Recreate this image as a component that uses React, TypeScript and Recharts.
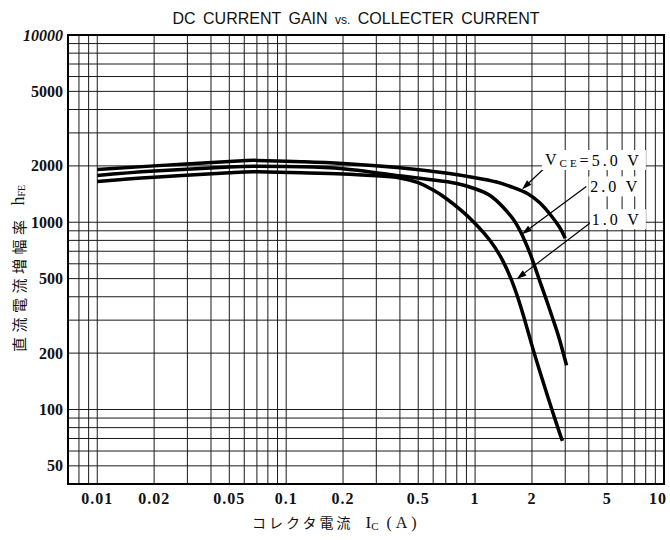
import React from 'react'
import {
  LineChart,
  Line,
  XAxis,
  YAxis,
  CartesianGrid,
  ReferenceArea,
  ReferenceLine,
  ReferenceDot,
} from 'recharts'

// log grid lines (all ticks) and the ones that get a label
const X_GRID = [
  0.007, 0.008, 0.009, 0.01, 0.02, 0.03, 0.04, 0.05, 0.06, 0.07, 0.08, 0.09,
  0.1, 0.2, 0.3, 0.4, 0.5, 0.6, 0.7, 0.8, 0.9, 1, 2, 3, 4, 5, 6, 7, 8, 9, 10,
]
const X_LABELS = [0.01, 0.02, 0.05, 0.1, 0.2, 0.5, 1, 2, 5, 10]
const Y_GRID = [
  40, 50, 60, 70, 80, 90, 100, 200, 300, 400, 500, 600, 700, 800, 900, 1000,
  2000, 3000, 4000, 5000, 6000, 7000, 8000, 9000, 10000,
]
const Y_LABELS = [50, 100, 200, 500, 1000, 2000, 5000, 10000]

// Ic (A) / hFE
const IC_5V = [0.01, 0.02, 0.05, 0.07, 0.12, 0.2, 0.4, 0.7, 1.0, 1.3, 1.6, 1.9, 2.2, 2.5, 2.8, 3.0]
const HFE_5V = [1914, 2000, 2110, 2140, 2105, 2060, 1955, 1830, 1730, 1640, 1530, 1420, 1270, 1100, 940, 822]

const IC_2V = [0.01, 0.02, 0.05, 0.07, 0.12, 0.2, 0.4, 0.6, 0.8, 1.0, 1.2, 1.4, 1.6, 1.8, 2.0, 2.2, 2.4, 2.6, 2.8, 3.05]
const HFE_2V = [1778, 1876, 1975, 1993, 1978, 1930, 1770, 1680, 1610, 1510, 1390, 1210, 1030, 830, 640, 485, 378, 298, 236, 172]

const IC_1V = [0.01, 0.02, 0.05, 0.07, 0.12, 0.2, 0.3, 0.4, 0.5, 0.6, 0.7, 0.85, 1.0, 1.2, 1.4, 1.6, 1.8, 2.0, 2.2, 2.4, 2.6, 2.8, 2.9]
const HFE_1V = [1652, 1740, 1840, 1862, 1837, 1810, 1770, 1725, 1627, 1485, 1343, 1150, 985, 799, 624, 459, 319, 220, 160, 121, 94, 75, 68]

// curve labels and their leader arrows (data coords)
const LABELS = [
  { key: '5', x: 7.64, y: 2150 },
  { key: '2', x: 7.5, y: 1554 },
  { key: '1', x: 7.64, y: 1038 },
]
const ARROWS = [
  { x1: 2.38, y1: 1986, x2: 1.77, y2: 1498 },
  { x1: 3.88, y1: 1554, x2: 1.77, y2: 863 },
  { x1: 4.18, y1: 1012, x2: 1.66, y2: 498 },
]

const zip = (xs: number[], ys: number[]) => xs.map((x, i) => ({ x, y: ys[i] }))

const SERIF = '"Liberation Serif", "DejaVu Serif", serif'
const SANS = '"Liberation Sans", Arial, sans-serif'
const CJK = '"Noto Sans CJK JP", sans-serif'

function Arrow(p: any) {
  const { x1, y1, x2, y2 } = p
  const a = Math.atan2(y2 - y1, x2 - x1)
  const L = 10
  const W = 3.2
  const bx = x2 - L * Math.cos(a)
  const by = y2 - L * Math.sin(a)
  const px = -Math.sin(a) * W
  const py = Math.cos(a) * W
  return (
    <g>
      <line x1={x1} y1={y1} x2={bx} y2={by} stroke="#000" strokeWidth={1.2} />
      <polygon points={`${x2},${y2} ${bx + px},${by + py} ${bx - px},${by - py}`} fill="#000" />
    </g>
  )
}

function CurveLabel(p: any) {
  const { cx, cy, which } = p
  const w = which === '5' ? 100 : 52
  return (
    <g>
      <rect x={cx - w} y={cy - 10} width={w + 4} height={20} fill="#fff" />
      {which === '5' ? (
        <text x={cx} y={cy} textAnchor="end" dominantBaseline="central" fontFamily={SERIF} fontSize={16} letterSpacing={3} fill="#000">
          V<tspan fontSize={11} dy={3}>CE</tspan>
          <tspan dy={-3}>=5.0 V</tspan>
        </text>
      ) : (
        <text x={cx} y={cy} textAnchor="end" dominantBaseline="central" fontFamily={SERIF} fontSize={16} letterSpacing={3} fill="#000">
          {which}.0 V
        </text>
      )}
    </g>
  )
}

function YTick(p: any) {
  const { x, y, payload } = p
  const v = payload.value
  if (!Y_LABELS.includes(v)) return <g />
  return (
    <text x={x} y={y} textAnchor="end" dominantBaseline="central" fontFamily={SERIF} fontSize={16}
      fontWeight="bold" fontStyle={v === 10000 ? 'italic' : 'normal'} fill="#111">
      {v}
    </text>
  )
}

function XTick(p: any) {
  const { x, y, payload } = p
  const v = payload.value
  if (!X_LABELS.includes(v)) return <g />
  return (
    <text x={v === 10 ? x - 6 : x} y={y} dy="0.71em" textAnchor="middle" fontFamily={SERIF} fontSize={16}
      fontWeight="bold" letterSpacing={1} fill="#111">
      {String(v)}
    </text>
  )
}

export default function App() {
  return (
    <div style={{ position: 'absolute', left: 0, top: 0, width: 670, height: 540, background: '#fff' }}>
      <LineChart width={670} height={540} margin={{ top: 35, right: 6, bottom: 26, left: 8 }}>
        <CartesianGrid stroke="#1a1a1a" strokeWidth={1} />
        <XAxis
          type="number"
          dataKey="x"
          scale="log"
          domain={[0.007, 10]}
          allowDataOverflow
          ticks={X_GRID}
          interval={0}
          tick={<XTick />}
          tickLine={false}
          axisLine={false}
          tickSize={0}
          tickMargin={9}
          height={30}
        />
        <YAxis
          type="number"
          dataKey="y"
          scale="log"
          domain={[40, 10000]}
          allowDataOverflow
          ticks={Y_GRID}
          interval={0}
          tick={<YTick />}
          tickLine={false}
          axisLine={false}
          tickSize={0}
          tickMargin={5}
          width={60}
        />
        <ReferenceArea x1={0.007} x2={10} y1={40} y2={10000} fill="none" stroke="#000" strokeWidth={2} ifOverflow="visible" />
        <Line data={zip(IC_5V, HFE_5V)} dataKey="y" type="natural" stroke="#000" strokeWidth={3.5} dot={false} isAnimationActive={false} />
        <Line data={zip(IC_2V, HFE_2V)} dataKey="y" type="natural" stroke="#000" strokeWidth={3.5} dot={false} isAnimationActive={false} />
        <Line data={zip(IC_1V, HFE_1V)} dataKey="y" type="natural" stroke="#000" strokeWidth={3.5} dot={false} isAnimationActive={false} />
        {LABELS.map((l) => (
          <ReferenceDot key={l.key} x={l.x} y={l.y} r={0} ifOverflow="visible"
            shape={(p: any) => <CurveLabel {...p} which={l.key} />} />
        ))}
        {ARROWS.map((a, i) => (
          <ReferenceLine key={i} segment={[{ x: a.x1, y: a.y1 }, { x: a.x2, y: a.y2 }]} ifOverflow="visible"
            shape={(p: any) => <Arrow {...p} />} />
        ))}
      </LineChart>
      <svg width={670} height={540} style={{ position: 'absolute', left: 0, top: 0, pointerEvents: 'none' }}>
        <text x={356} y={24} textAnchor="middle" fontFamily={SANS} fontSize={16} wordSpacing={3} fill="#111">
          DC CURRENT GAIN <tspan fontSize={12}>vs.</tspan> COLLECTER CURRENT
        </text>
        <text x={252} y={528} fill="#111">
          <tspan fontFamily={CJK} fontSize={14} letterSpacing={3}>コレクタ電流</tspan>
          <tspan dx={12} fontFamily={SERIF} fontSize={17}>I</tspan>
          <tspan fontFamily={SERIF} fontSize={11} dy={2}>C</tspan>
          <tspan dx={8} dy={-2} fontFamily={SERIF} fontSize={16} letterSpacing={4}>(A)</tspan>
        </text>
        <text x={17.5} y={352} transform="rotate(-90, 17.5, 352)" dominantBaseline="central" fill="#111">
          <tspan fontFamily={CJK} fontSize={15} letterSpacing={4.5}>直流電流増幅率</tspan>
          <tspan dx={10} fontFamily={SERIF} fontSize={18}>h</tspan>
          <tspan fontFamily={SERIF} fontSize={10} dy={3}>FE</tspan>
        </text>
      </svg>
    </div>
  )
}
